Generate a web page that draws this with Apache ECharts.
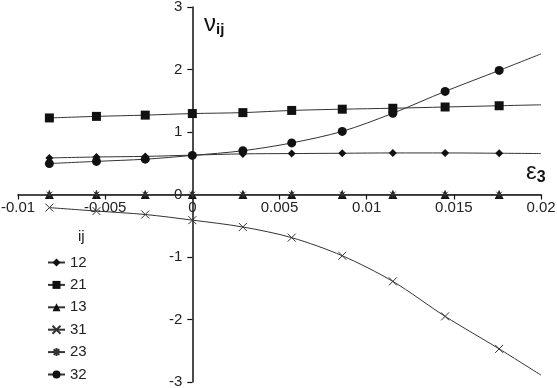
<!DOCTYPE html>
<html>
<head>
<meta charset="utf-8">
<script src="https://cdn.jsdelivr.net/npm/echarts@6/dist/echarts.min.js"></script>
<style>
  html, body { margin: 0; padding: 0; background: #fff; }
  #chart { width: 557px; height: 388px; }
</style>
</head>
<body>
<div id="chart"></div>
<script>
// strain e3 at the computed points, plus the end of the curves at 0.02
var eps3 = [-0.0082, -0.0055, -0.0027, 0, 0.0029, 0.0057, 0.0086, 0.0115, 0.0145, 0.0176];
var epsEnd = 0.02;

var names = ['12', '21', '13', '31', '23', '32'];
var nu12 = [0.585, 0.60, 0.61, 0.63, 0.65, 0.655, 0.66, 0.665, 0.665, 0.66];
var nu21 = [1.225, 1.25, 1.27, 1.295, 1.31, 1.345, 1.365, 1.38, 1.40, 1.42];
var nu13 = [0, 0, 0, 0, 0, 0, 0, 0, 0, 0];
var nu31 = [-0.21, -0.265, -0.32, -0.41, -0.52, -0.69, -0.98, -1.39, -1.95, -2.47];
var nu23 = [0, 0, 0, 0, 0, 0, 0, 0, 0, 0];
var nu32 = [0.495, 0.53, 0.565, 0.625, 0.70, 0.825, 1.01, 1.30, 1.65, 1.985];
// curve values at e3 = 0.02 (line runs on past the last marker)
var endVals = [0.655, 1.435, 0, -2.89, 0, 2.25];

var xTicks = [-0.01, -0.005, 0, 0.005, 0.01, 0.015, 0.02];
var yTicks = [-3, -2, -1, 0, 1, 2, 3];

var ink = '#111';
var lineInk = '#333';
var font = 'Liberation Sans, Arial, sans-serif';

var crossPath = 'path://M0,0L10,10M10,0L0,10';
var starPath = 'path://M0,5L10,5M5,0L5,10M1.5,1.5L8.5,8.5M8.5,1.5L1.5,8.5';

// plot box
var W = 557, H = 388;
var gLeft = 18, gRight = 16, gTop = 7, gBottom = 6;
var plotW = W - gLeft - gRight, plotH = H - gTop - gBottom;
// axes cross at (0, 0): shift them into the box
var xAxisShift = -plotH * (0 - yTicks[0]) / (yTicks[yTicks.length - 1] - yTicks[0]);
var yAxisShift = -plotW * (0 - xTicks[0]) / (xTicks[xTicks.length - 1] - xTicks[0]);

function pairs(vals, endVal) {
    var d = eps3.map(function (x, i) { return [x, vals[i]]; });
    d.push({ value: [epsEnd, endVal], symbol: 'none' });
    return d;
}

function mk(name, vals, endVal, symbol, size, hollow) {
    return {
        name: name,
        type: 'line',
        smooth: 0.3,
        data: pairs(vals, endVal),
        symbol: symbol,
        symbolSize: size,
        showAllSymbol: true,
        lineStyle: { color: lineInk, width: 1 },
        itemStyle: hollow
            ? { color: 'rgba(0,0,0,0)', borderColor: '#333', borderWidth: 1 }
            : { color: ink },
        emphasis: { disabled: true },
        z: 3
    };
}

var myChart = echarts.init(document.getElementById('chart'));
var option = {
    backgroundColor: '#fff',
    animation: false,
    textStyle: { fontFamily: font },
    grid: {
        left: gLeft, right: gRight, top: gTop, bottom: gBottom,
        containLabel: false, outerBoundsMode: 'none'
    },
    xAxis: {
        type: 'value',
        position: 'bottom',
        offset: xAxisShift,
        min: xTicks[0],
        max: xTicks[xTicks.length - 1],
        interval: 0.005,
        axisLine: { onZero: false, lineStyle: { color: ink, width: 1.5 } },
        axisTick: { show: true, length: 5, lineStyle: { color: ink, width: 1.2 } },
        axisLabel: { color: '#222', fontSize: 15, margin: 6, fontFamily: font },
        splitLine: { show: false }
    },
    yAxis: {
        type: 'value',
        position: 'left',
        offset: yAxisShift,
        min: yTicks[0],
        max: yTicks[yTicks.length - 1],
        interval: 1,
        axisLine: { onZero: false, lineStyle: { color: ink, width: 1.5 } },
        axisTick: { show: true, length: 5, lineStyle: { color: ink, width: 1.2 } },
        axisLabel: { color: '#222', fontSize: 15, margin: 10, fontFamily: font },
        splitLine: { show: false }
    },
    title: {
        text: 'ij',
        left: 73,
        top: 224,
        textStyle: { fontSize: 15, fontWeight: 'normal', color: '#222', fontFamily: font }
    },
    legend: {
        orient: 'vertical',
        left: 47,
        top: 255,
        padding: 0,
        itemWidth: 17,
        itemHeight: 10,
        itemGap: 7.4,
        data: names,
        textStyle: { fontSize: 15, color: '#222', fontFamily: font }
    },
    graphic: [
        {
            type: 'text',
            left: 204,
            top: 12,
            style: {
                text: '{a|ν}{b|ij}',
                rich: {
                    a: { fontSize: 24, fontFamily: font, fill: '#111' },
                    b: { fontSize: 15, fontWeight: 'bold', fontFamily: font, fill: '#111', padding: [12, 0, 0, 0] }
                }
            }
        },
        {
            type: 'text',
            left: 526,
            top: 160,
            style: {
                text: '{a|ε}{b|3}',
                rich: {
                    a: { fontSize: 24, fontFamily: font, fill: '#111' },
                    b: { fontSize: 16, fontWeight: 'bold', fontFamily: font, fill: '#111', padding: [12, 0, 0, 0] }
                }
            }
        }
    ],
    series: [
        mk(names[0], nu12, endVals[0], 'diamond', 8, false),
        mk(names[1], nu21, endVals[1], 'rect', 9, false),
        mk(names[2], nu13, endVals[2], 'triangle', 9, false),
        mk(names[3], nu31, endVals[3], crossPath, 8, true),
        mk(names[4], nu23, endVals[4], starPath, 8, true),
        mk(names[5], nu32, endVals[5], 'circle', 9, false)
    ]
};
myChart.setOption(option);
</script>
</body>
</html>
